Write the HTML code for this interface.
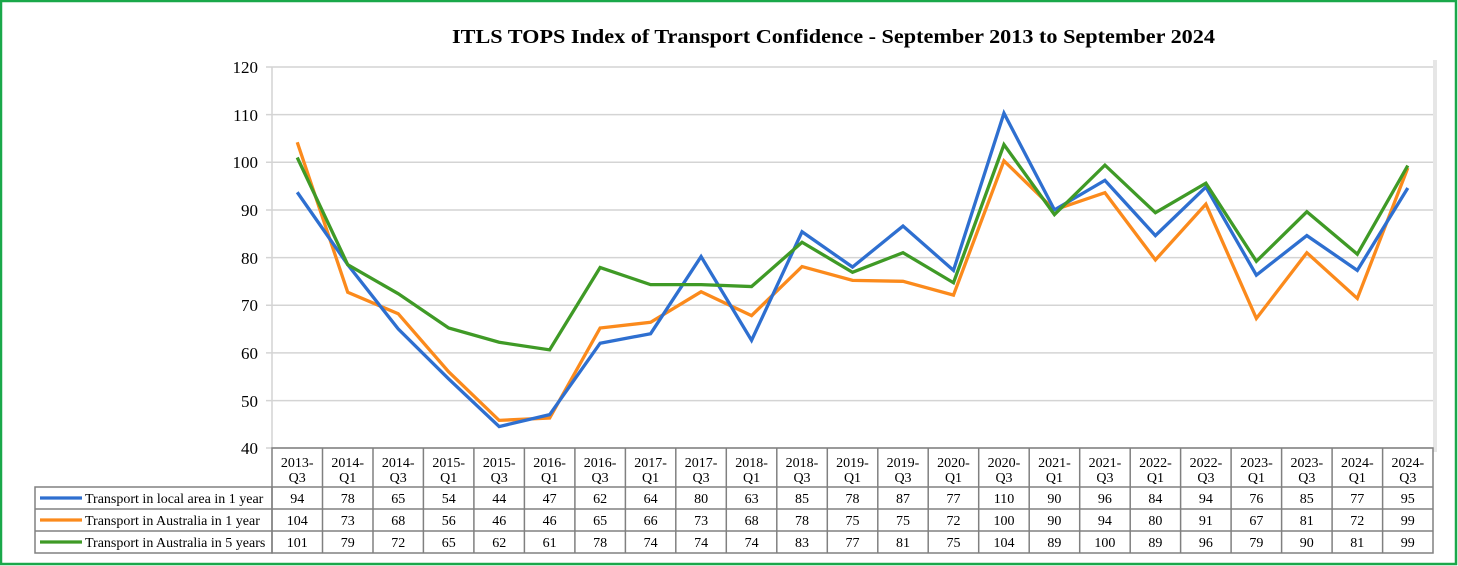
<!DOCTYPE html>
<html><head><meta charset="utf-8"><style>
html,body{margin:0;padding:0;background:#fff;}
svg{display:block;font-family:"Liberation Serif",serif;}
</style></head><body>
<svg width="1458" height="566" viewBox="0 0 1458 566" xmlns="http://www.w3.org/2000/svg">
<rect x="1" y="1" width="1455" height="563" fill="#fff" stroke="#1aa84a" stroke-width="2.5"/>
<rect x="1433" y="60" width="4" height="392" fill="#e6e6e6"/>
<text x="452" y="43" font-size="20" font-weight="bold" textLength="763" lengthAdjust="spacingAndGlyphs">ITLS TOPS Index of Transport Confidence - September 2013 to September 2024</text>
<g stroke="#d4d4d4" stroke-width="1.5">
<line x1="266" y1="67" x2="1433" y2="67"/>
<line x1="266" y1="114.6" x2="1433" y2="114.6"/>
<line x1="266" y1="162.3" x2="1433" y2="162.3"/>
<line x1="266" y1="210" x2="1433" y2="210"/>
<line x1="266" y1="257.6" x2="1433" y2="257.6"/>
<line x1="266" y1="305.3" x2="1433" y2="305.3"/>
<line x1="266" y1="352.9" x2="1433" y2="352.9"/>
<line x1="266" y1="400.6" x2="1433" y2="400.6"/>
<line x1="266" y1="448" x2="1433" y2="448"/>
<line x1="272" y1="67" x2="272" y2="448"/>
</g>
<g font-size="17" text-anchor="end">
<text x="258" y="73">120</text><text x="258" y="121">110</text><text x="258" y="168">100</text>
<text x="258" y="216">90</text><text x="258" y="264">80</text><text x="258" y="311">70</text>
<text x="258" y="359">60</text><text x="258" y="407">50</text><text x="258" y="454">40</text>
</g>
<g fill="none" stroke-width="3.3" stroke-linejoin="miter" transform="matrix(50.48 0 0 -4.7625 297.24 638.5)">
<polyline vector-effect="non-scaling-stroke" stroke="#fb8a1c" points="0,104.2 1,72.7 2,68.2 3,56 4,45.8 5,46.3 6,65.2 7,66.4 8,72.8 9,67.8 10,78.1 11,75.2 12,75 13,72.1 14,100.3 15,90 16,93.6 17,79.5 18,91.2 19,67.2 20,81 21,71.4 22,98.8"/>
<polyline vector-effect="non-scaling-stroke" stroke="#2e6fd0" points="0,93.7 1,78.5 2,65 3,54.5 4,44.5 5,47 6,62 7,64 8,80.2 9,62.6 10,85.4 11,78 12,86.6 13,77.3 14,110.3 15,90 16,96.2 17,84.6 18,94.8 19,76.3 20,84.6 21,77.3 22,94.6"/>
<polyline vector-effect="non-scaling-stroke" stroke="#3f9a26" points="0,101 1,78.5 2,72.4 3,65.2 4,62.2 5,60.6 6,77.9 7,74.3 8,74.3 9,73.9 10,83.2 11,76.9 12,81 13,74.7 14,103.7 15,89 16,99.4 17,89.4 18,95.6 19,79.2 20,89.6 21,80.7 22,99.3"/>
</g>
<g stroke="#808080" stroke-width="1.5" fill="none">
<rect x="272" y="448" width="1161" height="105"/>
<rect x="35" y="487" width="237" height="66"/>
<line x1="35" y1="509" x2="1433" y2="509"/>
<line x1="35" y1="531" x2="1433" y2="531"/>
<line x1="272" y1="487" x2="1433" y2="487"/>
<path d="M322.5 448V553M373 448V553M423.4 448V553M473.9 448V553M524.4 448V553M574.9 448V553M625.4 448V553M675.8 448V553M726.3 448V553M776.8 448V553M827.3 448V553M877.8 448V553M928.2 448V553M978.7 448V553M1029.2 448V553M1079.7 448V553M1130.2 448V553M1180.6 448V553M1231.1 448V553M1281.6 448V553M1332.1 448V553M1382.6 448V553"/>
</g>
<g stroke-width="3.3">
<line x1="40" y1="498" x2="82" y2="498" stroke="#2e6fd0"/>
<line x1="40" y1="520" x2="82" y2="520" stroke="#fb8a1c"/>
<line x1="40" y1="542" x2="82" y2="542" stroke="#3f9a26"/>
</g>
<g font-size="14">
<text x="85" y="503">Transport in local area in 1 year</text>
<text x="85" y="525">Transport in Australia in 1 year</text>
<text x="85" y="547">Transport in Australia in 5 years</text>
</g>
<g font-size="14" text-anchor="middle">
<text y="467"><tspan x="297.2">2013-</tspan><tspan x="347.7">2014-</tspan><tspan x="398.2">2014-</tspan><tspan x="448.7">2015-</tspan><tspan x="499.2">2015-</tspan><tspan x="549.6">2016-</tspan><tspan x="600.1">2016-</tspan><tspan x="650.6">2017-</tspan><tspan x="701.1">2017-</tspan><tspan x="751.6">2018-</tspan><tspan x="802">2018-</tspan><tspan x="852.5">2019-</tspan><tspan x="903">2019-</tspan><tspan x="953.5">2020-</tspan><tspan x="1004">2020-</tspan><tspan x="1054.4">2021-</tspan><tspan x="1104.9">2021-</tspan><tspan x="1155.4">2022-</tspan><tspan x="1205.9">2022-</tspan><tspan x="1256.4">2023-</tspan><tspan x="1306.8">2023-</tspan><tspan x="1357.3">2024-</tspan><tspan x="1407.8">2024-</tspan></text>
<text y="482"><tspan x="297.2">Q3</tspan><tspan x="347.7">Q1</tspan><tspan x="398.2">Q3</tspan><tspan x="448.7">Q1</tspan><tspan x="499.2">Q3</tspan><tspan x="549.6">Q1</tspan><tspan x="600.1">Q3</tspan><tspan x="650.6">Q1</tspan><tspan x="701.1">Q3</tspan><tspan x="751.6">Q1</tspan><tspan x="802">Q3</tspan><tspan x="852.5">Q1</tspan><tspan x="903">Q3</tspan><tspan x="953.5">Q1</tspan><tspan x="1004">Q3</tspan><tspan x="1054.4">Q1</tspan><tspan x="1104.9">Q3</tspan><tspan x="1155.4">Q1</tspan><tspan x="1205.9">Q3</tspan><tspan x="1256.4">Q1</tspan><tspan x="1306.8">Q3</tspan><tspan x="1357.3">Q1</tspan><tspan x="1407.8">Q3</tspan></text>
<text y="503"><tspan x="297.2">94</tspan><tspan x="347.7">78</tspan><tspan x="398.2">65</tspan><tspan x="448.7">54</tspan><tspan x="499.2">44</tspan><tspan x="549.6">47</tspan><tspan x="600.1">62</tspan><tspan x="650.6">64</tspan><tspan x="701.1">80</tspan><tspan x="751.6">63</tspan><tspan x="802">85</tspan><tspan x="852.5">78</tspan><tspan x="903">87</tspan><tspan x="953.5">77</tspan><tspan x="1004">110</tspan><tspan x="1054.4">90</tspan><tspan x="1104.9">96</tspan><tspan x="1155.4">84</tspan><tspan x="1205.9">94</tspan><tspan x="1256.4">76</tspan><tspan x="1306.8">85</tspan><tspan x="1357.3">77</tspan><tspan x="1407.8">95</tspan></text>
<text y="525"><tspan x="297.2">104</tspan><tspan x="347.7">73</tspan><tspan x="398.2">68</tspan><tspan x="448.7">56</tspan><tspan x="499.2">46</tspan><tspan x="549.6">46</tspan><tspan x="600.1">65</tspan><tspan x="650.6">66</tspan><tspan x="701.1">73</tspan><tspan x="751.6">68</tspan><tspan x="802">78</tspan><tspan x="852.5">75</tspan><tspan x="903">75</tspan><tspan x="953.5">72</tspan><tspan x="1004">100</tspan><tspan x="1054.4">90</tspan><tspan x="1104.9">94</tspan><tspan x="1155.4">80</tspan><tspan x="1205.9">91</tspan><tspan x="1256.4">67</tspan><tspan x="1306.8">81</tspan><tspan x="1357.3">72</tspan><tspan x="1407.8">99</tspan></text>
<text y="547"><tspan x="297.2">101</tspan><tspan x="347.7">79</tspan><tspan x="398.2">72</tspan><tspan x="448.7">65</tspan><tspan x="499.2">62</tspan><tspan x="549.6">61</tspan><tspan x="600.1">78</tspan><tspan x="650.6">74</tspan><tspan x="701.1">74</tspan><tspan x="751.6">74</tspan><tspan x="802">83</tspan><tspan x="852.5">77</tspan><tspan x="903">81</tspan><tspan x="953.5">75</tspan><tspan x="1004">104</tspan><tspan x="1054.4">89</tspan><tspan x="1104.9">100</tspan><tspan x="1155.4">89</tspan><tspan x="1205.9">96</tspan><tspan x="1256.4">79</tspan><tspan x="1306.8">90</tspan><tspan x="1357.3">81</tspan><tspan x="1407.8">99</tspan></text>
</g>
</svg>
</body></html>
